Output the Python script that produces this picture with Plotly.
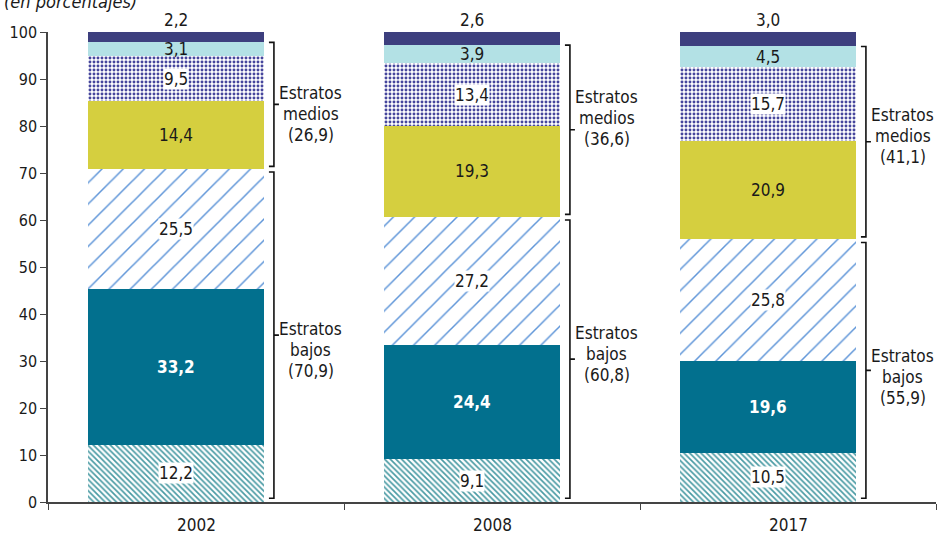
import plotly.graph_objects as go

# ---------------- data ----------------
years = ["2002", "2008", "2017"]
seg_pobreza_ext = [12.2, 9.1, 10.5]      # bottom, dense hatch
seg_pobreza = [33.2, 24.4, 19.6]         # teal solid
seg_bajos_np = [25.5, 27.2, 25.8]        # "/" hatch
seg_medio_bajo = [14.4, 19.3, 20.9]      # yellow
seg_medio_int = [9.5, 13.4, 15.7]        # dotted
seg_medio_alto = [3.1, 3.9, 4.5]         # light blue
seg_altos = [2.2, 2.6, 3.0]              # navy
bajos_total = [70.9, 60.8, 55.9]
medios_total = [26.9, 36.6, 41.1]
y_tick_vals = [0, 10, 20, 30, 40, 50, 60, 70, 80, 90, 100]
subtitle = "(en porcentajes)"

# ---------------- layout constants ----------------
W, H = 941, 535
ML, MR, MT, MB = 48, 5, 32, 33
PX_X = (W - ML - MR) / 3.0      # pixels per category unit
PX_Y = (H - MT - MB) / 100.0    # pixels per percent
BAR_C = 0.432                   # bar centre inside category
BAR_W = 0.595
FONT = "DejaVu Sans Condensed, Liberation Sans Narrow, sans-serif"
TXT = "#1a1a1a"
LBL_SIZE = 17

xpos = [i + BAR_C for i in range(len(years))]

series = [
    (seg_pobreza_ext, dict(color="white", pattern=dict(shape="\\", fgcolor="#4a9ba4", bgcolor="white", size=4, solidity=0.42, fillmode="replace"))),
    (seg_pobreza, dict(color="#02708e")),
    (seg_bajos_np, dict(color="white", pattern=dict(shape="/", fgcolor="#5e95d8", bgcolor="white", size=15, solidity=0.1, fillmode="replace"))),
    (seg_medio_bajo, dict(color="#d5cf3f")),
    (seg_medio_int, dict(color="white", pattern=dict(shape=".", fgcolor="#45459c", bgcolor="white", size=4, solidity=0.42, fillmode="replace"))),
    (seg_medio_alto, dict(color="#b3e1e5")),
    (seg_altos, dict(color="#3d3f7e")),
]

fig = go.Figure()
for vals, marker in series:
    m = dict(marker)
    m["line"] = dict(width=0)
    fig.add_trace(go.Bar(x=xpos, y=vals, width=BAR_W, marker=m, hoverinfo="skip", showlegend=False))

def fmt(v):
    return f"{v:.1f}".replace(".", ",")

annotations = []
# value labels
styles = ["bg", "bold", "bg", "plain", "bg", "plain", "above"]
for ci in range(len(years)):
    base = 0.0
    for si, (vals, _) in enumerate(series):
        v = vals[ci]
        st = styles[si]
        f = dict(family=FONT, size=LBL_SIZE, color=TXT)
        if st == "above":
            annotations.append(dict(x=xpos[ci], y=min(base + v, 100), xref="x", yref="y", text=fmt(v), showarrow=False,
                                    yanchor="bottom", yshift=0, font=f))
        elif st == "bold":
            annotations.append(dict(x=xpos[ci], y=base + v / 2, xref="x", yref="y", text="<b>" + fmt(v) + "</b>",
                                    showarrow=False, font=dict(family=FONT, size=LBL_SIZE, color="white")))
        elif st == "bg":
            annotations.append(dict(x=xpos[ci], y=base + v / 2, xref="x", yref="y", text=fmt(v), showarrow=False,
                                    bgcolor="white", borderpad=0, font=f))
        else:
            annotations.append(dict(x=xpos[ci], y=base + v / 2, xref="x", yref="y", text=fmt(v), showarrow=False,
                                    font=f))
        base += v

# brackets
shapes = []
BR_OFF = 10 / PX_X
CAP = 5 / PX_X
TICK = 5 / PX_X
LBL_OFF = 37 / PX_X
nudge_medios = [-10, 12, 6]
nudge_bajos = [-15, 5, -7]
for ci in range(len(years)):
    low = seg_pobreza_ext[ci] + seg_pobreza[ci] + seg_bajos_np[ci]
    high = low + seg_medio_bajo[ci] + seg_medio_int[ci] + seg_medio_alto[ci]
    xb = xpos[ci] + BAR_W / 2 + BR_OFF
    groups = [
        (low + 0.5, high - 0.1, "medios", medios_total[ci], nudge_medios[ci]),
        (0.8, low - 0.7, "bajos", bajos_total[ci], nudge_bajos[ci]),
    ]
    for y0, y1, name, tot, nud in groups:
        ym = (y0 + y1) / 2
        path = (f"M {xb - CAP},{y1} L {xb},{y1} L {xb},{y0} L {xb - CAP},{y0} "
                f"M {xb},{ym} L {xb + TICK},{ym}")
        shapes.append(dict(type="path", xref="x", yref="y", path=path,
                           line=dict(color="#111111", width=1.6)))
        lines = ["Estratos", name, "(" + fmt(tot) + ")"]
        for li, t in enumerate(lines):
            annotations.append(dict(x=xb + LBL_OFF, y=ym, xref="x", yref="y", text=t, showarrow=False,
                                    yshift=nud + 21 * (1 - li), font=dict(family=FONT, size=LBL_SIZE, color=TXT)))

# category labels
for ci, yr in enumerate(years):
    annotations.append(dict(x=ci + 0.5, y=0, xref="x", yref="paper", text=yr, showarrow=False,
                            yanchor="middle", yshift=-23, font=dict(family=FONT, size=17, color=TXT)))

# cut-off subtitle
annotations.append(dict(x=0, y=1, xref="paper", yref="paper", text="<i>" + subtitle + "</i>", showarrow=False,
                        xanchor="left", yanchor="middle", xshift=-46, yshift=31,
                        font=dict(family=FONT, size=18, color=TXT)))

fig.update_layout(
    width=W, height=H, autosize=False,
    margin=dict(l=ML, r=MR, t=MT, b=MB, pad=0),
    paper_bgcolor="white", plot_bgcolor="white",
    barmode="stack", bargap=0,
    font=dict(family=FONT, size=16, color=TXT),
    xaxis=dict(range=[0, 3], tickvals=[0, 1, 2, 3], ticks="outside", ticklen=6, tickcolor="#444",
               showticklabels=False, showline=True, linecolor="#444", linewidth=1.5,
               showgrid=False, zeroline=False, fixedrange=True),
    yaxis=dict(range=[0, 100], tickvals=y_tick_vals, ticks="outside", ticklen=6, tickcolor="#444",
               showline=True, linecolor="#444", linewidth=1.5, showgrid=False, zeroline=False,
               tickfont=dict(family=FONT, size=16, color=TXT), fixedrange=True),
    shapes=shapes, annotations=annotations,
)

fig.write_html("out.html", config={"displayModeBar": False},
               post_script="document.body.style.margin='0';")
